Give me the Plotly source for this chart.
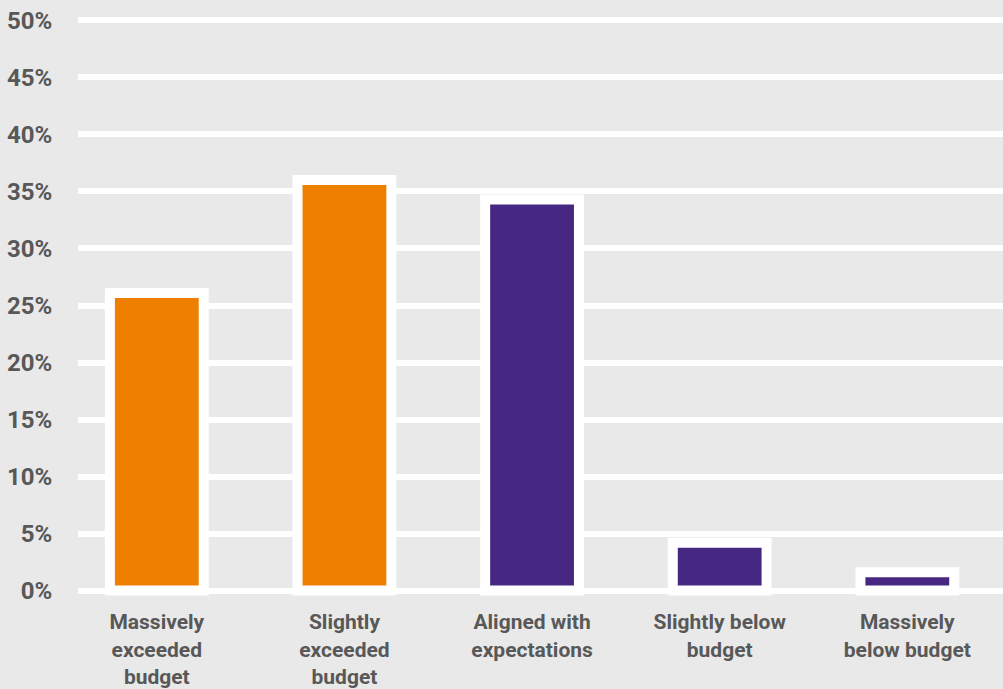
import plotly.graph_objects as go

categories = ["Massively<br>exceeded<br>budget", "Slightly<br>exceeded<br>budget",
              "Aligned with<br>expectations", "Slightly below<br>budget", "Massively<br>below budget"]
values = [26.1, 36.0, 34.3, 4.2, 1.6]
colors = ["#EF7F00", "#EF7F00", "#462882", "#462882", "#462882"]
y_ticks = [0, 5, 10, 15, 20, 25, 30, 35, 40, 45, 50]
y_tick_labels = [f"{v}%" for v in y_ticks]

x_pos = list(range(len(categories)))

fig = go.Figure()
fig.add_trace(go.Bar(
    x=x_pos, y=values, width=0.5,
    marker=dict(color=colors, line=dict(color="white", width=10)),
    hoverinfo="skip",
))

fig.update_layout(
    width=1003, height=689,
    paper_bgcolor="#E9E9E9", plot_bgcolor="#E9E9E9",
    margin=dict(l=78, r=0, t=9, b=87),
    showlegend=False,
    font=dict(family="Roboto", color="#585858"),
    xaxis=dict(
        range=[-0.42, 4.51], tickvals=x_pos, ticktext=categories,
        showgrid=False, zeroline=False, showline=False, automargin=False,
        ticks="outside", ticklen=1, tickcolor="rgba(0,0,0,0)",
        tickfont=dict(size=21, weight="bold", color="#585858"),
    ),
    yaxis=dict(
        range=[-1, 51], tickmode="array", tickvals=y_ticks, ticktext=y_tick_labels,
        showgrid=True, gridcolor="white", gridwidth=6,
        zeroline=False, showline=False, automargin=False,
        ticks="outside", ticklen=20, tickcolor="rgba(0,0,0,0)",
        tickfont=dict(size=24, weight="bold", color="#585858"),
    ),
)

fig.write_html("out.html")
